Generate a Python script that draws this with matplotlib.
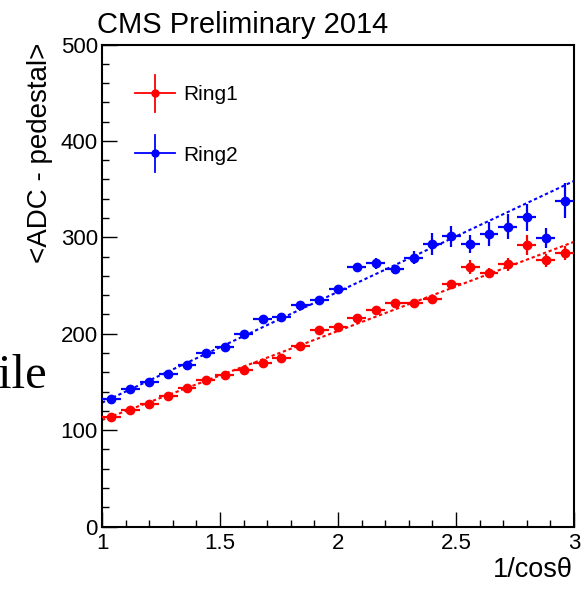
import numpy as np
import matplotlib
matplotlib.use("Agg")
from matplotlib import pyplot as plt
from matplotlib.ticker import MultipleLocator, FuncFormatter

plt.rcParams['font.family'] = ['Liberation Sans', 'DejaVu Sans']

# 01 - data (bin centres in 1/cos(theta), width 0.08)
x_centres = [1.04, 1.12, 1.20, 1.28, 1.36, 1.44, 1.52, 1.60, 1.68, 1.76, 1.84, 1.92, 2.00,
             2.08, 2.16, 2.24, 2.32, 2.40, 2.48, 2.56, 2.64, 2.72, 2.80, 2.88, 2.96]
x_halfwidth = 0.04

ring1 = [114, 121, 127, 135, 144, 152, 157, 162, 170, 175, 187, 204, 207,
         216, 225, 232, 232, 236, 252, 269, 263, 272, 292, 276, 284]
ring1_err = [2, 2, 2, 2, 2, 2, 2, 2, 2, 2, 2, 2.5, 3,
             3, 3, 3, 3, 3.5, 4, 7.5, 5.5, 7, 10, 7, 7.5]

ring2 = [132, 143, 150, 158, 168, 180, 186, 200, 215, 217, 230, 235, 246,
         269, 273, 267, 279, 293, 301, 293, 303, 311, 321, 299, 338]
ring2_err = [2, 2, 2, 2.5, 2.5, 2.5, 3, 3, 3, 3, 3, 3, 3,
             3.5, 5.5, 4.5, 6.5, 11, 11, 9, 12.5, 13, 14, 10.5, 18]

# linear fits: (value at x=1, slope)
fit_ring1 = (110.5, 92.4)
fit_ring2 = (128.5, 115.0)
fit_range = [1.0, 3.0]

series = [("Ring1", ring1, ring1_err, fit_ring1, "#ff0000"),
          ("Ring2", ring2, ring2_err, fit_ring2, "#0000ff")]

# 02 - figure
fig = plt.figure(figsize=(5.84, 5.89), dpi=100)
ax = fig.add_axes([0.1747, 0.1061, 0.8082, 0.8183])

for name, vals, errs, fit, col in series:
    fx = np.array(fit_range)
    fy = fit[0] + fit[1] * (fx - 1.0)
    ax.plot(fx, fy, color=col, lw=1.5, dashes=(1.6, 1.3), zorder=2)
    ax.errorbar(x_centres, vals, xerr=x_halfwidth, yerr=errs, fmt='o', ms=6,
                color=col, ecolor=col, elinewidth=1.6, capsize=0, zorder=3)

ax.set_xlim(1, 3)
ax.set_ylim(0, 500)
ax.xaxis.set_major_locator(MultipleLocator(0.5))
ax.xaxis.set_minor_locator(MultipleLocator(0.1))
ax.yaxis.set_major_locator(MultipleLocator(100))
ax.yaxis.set_minor_locator(MultipleLocator(20))
ax.xaxis.set_major_formatter(FuncFormatter(lambda v, p: "%g" % v))
ax.tick_params(which='both', direction='in', top=False, right=False, width=1, labelsize=16)
ax.tick_params(which='major', length=10.5)
ax.tick_params(which='minor', length=5)
ax.tick_params(axis='x', pad=5)
ax.tick_params(axis='y', pad=3)
for s in ax.spines.values():
    s.set_linewidth(1.5)

# legend keys drawn by hand (ROOT style, no frame)
leg_y = [0.899, 0.774]
for (name, vals, errs, fit, col), ly in zip(series, leg_y):
    ax.plot([0.070, 0.155], [ly, ly], color=col, lw=1.3, transform=ax.transAxes, clip_on=False)
    ax.plot([0.1123, 0.1123], [ly - 0.038, ly + 0.038], color=col, lw=1.3,
            transform=ax.transAxes, clip_on=False)
    ax.plot([0.1123], [ly], 'o', ms=5, color=col, transform=ax.transAxes, clip_on=False)
    ax.text(0.1716, ly - 0.015, name, fontsize=15, transform=ax.transAxes, va='baseline')

fig.text(0.166, 0.944, "CMS Preliminary 2014", fontsize=21, va='baseline')
fig.text(0.069, 0.927, "<ADC - pedestal>", fontsize=20, rotation=90, ha='center', va='top')
fig.text(0.980, 0.020, "1/cos\u03b8", fontsize=19.5, ha='right', va='baseline')
fig.text(0.079, 0.341, "ile", fontsize=35, ha='right', va='baseline',
         family=['Liberation Serif', 'DejaVu Serif'])

fig.savefig("out.png", dpi=100)
